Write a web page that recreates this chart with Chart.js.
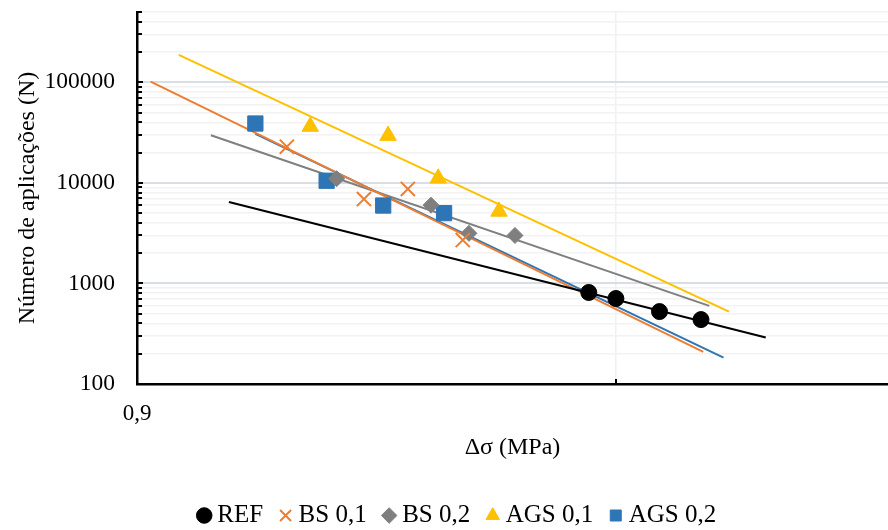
<!DOCTYPE html>
<html>
<head>
<meta charset="utf-8">
<script src="https://cdn.jsdelivr.net/npm/chart.js"></script>
<style>
  body { margin: 0; background: #fff; }
</style>
</head>
<body>
<canvas id="chart" width="888" height="530"></canvas>
<script>
// values (Δσ in MPa, N cycles)
const seriesNames = ['REF', 'BS 0,1', 'BS 0,2', 'AGS 0,1', 'AGS 0,2'];

const refX = [7.90, 9.00, 11.1, 13.55];
const refY = [813, 708, 525, 437];
const bs01X = [1.85, 2.68, 3.31, 4.31];
const bs01Y = [22900, 6900, 8700, 2700];
const bs02X = [2.35, 3.70, 4.44, 5.54];
const bs02Y = [11000, 6000, 3150, 3000];
const ags01X = [2.07, 3.01, 3.83, 5.13];
const ags01Y = [36300, 29500, 11100, 5200];
const ags02X = [1.59, 2.24, 2.94, 3.94];
const ags02Y = [38900, 10500, 5950, 5000];

// power trendlines, start and end as seen on the chart
const refTrendX = [1.40, 18.5];
const refTrendY = [6450, 290];
const bs01TrendX = [0.961, 13.7];
const bs01TrendY = [101600, 209];
const bs02TrendX = [1.284, 14.1];
const bs02TrendY = [29700, 598];
const ags01TrendX = [1.10, 15.5];
const ags01TrendY = [187500, 525];
const ags02TrendX = [1.59, 15.1];
const ags02TrendY = [30700, 183];

// axes
const xTickValues = [0.9, 9];
const xTickLabels = ['0,9', ''];
const yDecades = [100, 1000, 10000, 100000];
const yTickLabels = ['100', '1000', '10000', '100000'];
const yMin = 100, yMax = 500000;

const FONT = "'Liberation Serif', 'Times New Roman', serif";

function isDecade(v){
  const l = Math.log10(v);
  return Math.abs(l - Math.round(l)) < 1e-9;
}

const yTickValues = [];
yDecades.forEach(d=>{
  for(let m=1;m<10;m++){
    if(d*m <= yMax) yTickValues.push(d*m);
  }
});

function pts(xs, ys){
  return xs.map((x,i)=>({x:x, y:ys[i]}));
}

function marks(label, xs, ys, style, color, radius){
  return {
    label: label, data: pts(xs, ys), showLine: false, order: 0,
    pointStyle: style, pointRadius: radius, pointHoverRadius: radius,
    backgroundColor: color, borderColor: color,
    borderWidth: style === 'crossRot' ? 2 : 1
  };
}

function trend(xs, ys, color){
  return {
    data: pts(xs, ys), showLine: true, order: 1, pointRadius: 0,
    borderColor: color, borderWidth: 2, fill: false
  };
}

// tick marks on the inside of both axes
const innerTicks = {
  id: 'innerTicks',
  afterDraw(chart){
    const ctx = chart.ctx, xs = chart.scales.x, ys = chart.scales.y;
    ctx.save();
    ctx.strokeStyle = '#000';
    ctx.lineWidth = 2;
    ys.ticks.forEach(t=>{
      const py = Math.round(ys.getPixelForValue(t.value));
      const len = isDecade(t.value) ? 6 : 5;
      ctx.beginPath();
      ctx.moveTo(xs.left, py);
      ctx.lineTo(xs.left + len, py);
      ctx.stroke();
    });
    xs.ticks.forEach((t,i)=>{
      if(i === 0) return;
      const px = Math.round(xs.getPixelForValue(t.value));
      ctx.beginPath();
      ctx.moveTo(px, ys.bottom);
      ctx.lineTo(px, ys.bottom - 5);
      ctx.stroke();
    });
    ctx.restore();
  }
};

// nudge the legend a bit to the right like in the original
const legendShift = {
  id: 'legendShift',
  afterLayout(chart){
    chart.legend.left += 16;
    chart.legend.right += 16;
  }
};

new Chart(document.getElementById('chart'), {
  type: 'scatter',
  data: {
    datasets: [
      marks(seriesNames[0], refX, refY, 'circle', '#000000', 8),
      marks(seriesNames[1], bs01X, bs01Y, 'crossRot', '#ED7D31', 10),
      marks(seriesNames[2], bs02X, bs02Y, 'rectRot', '#7F7F7F', 8),
      marks(seriesNames[3], ags01X, ags01Y, 'triangle', '#FFC000', 9.5),
      marks(seriesNames[4], ags02X, ags02Y, 'rect', '#2E75B6', 10.8),
      trend(refTrendX, refTrendY, '#000000'),
      trend(bs01TrendX, bs01TrendY, '#ED7D31'),
      trend(bs02TrendX, bs02TrendY, '#7F7F7F'),
      trend(ags01TrendX, ags01TrendY, '#FFC000'),
      trend(ags02TrendX, ags02TrendY, '#2E75B6')
    ]
  },
  options: {
    responsive: false,
    animation: false,
    devicePixelRatio: 1,
    layout: { autoPadding: false, padding: { top: 12, right: 0, bottom: -8, left: 0 } },
    plugins: {
      tooltip: { enabled: false },
      legend: {
        position: 'bottom',
        labels: {
          usePointStyle: true,
          boxWidth: 1,
          boxHeight: 11,
          padding: 22,
          color: '#000',
          font: { family: FONT, size: 25 },
          filter: item => !!item.text
        }
      }
    },
    scales: {
      x: {
        type: 'logarithmic',
        min: 0.9,
        max: 33.3,
        afterBuildTicks: s => { s.ticks = xTickValues.map(v=>({value: v})); },
        afterFit: s => { s.height = 97; s.paddingLeft = 0; s.paddingRight = 0; },
        ticks: {
          autoSkip: false, maxRotation: 0, padding: 16, color: '#000',
          font: { family: FONT, size: 23 },
          callback: (v, i) => xTickLabels[i]
        },
        grid: { drawTicks: false, color: '#eef0f4', lineWidth: 1.5 },
        border: { color: '#000', width: 2.5 },
        title: {
          display: true, text: 'Δσ (MPa)', color: '#000',
          font: { family: FONT, size: 24 },
          padding: { top: 0, bottom: 19 }
        }
      },
      y: {
        type: 'logarithmic',
        min: yMin,
        max: yMax,
        afterBuildTicks: s => { s.ticks = yTickValues.map(v=>({value: v})); },
        afterFit: s => { s.width = 137; s.paddingTop = 0; s.paddingBottom = 0; },
        ticks: {
          autoSkip: false, padding: 22, color: '#000',
          font: { family: FONT, size: 23.5 },
          callback: v => {
            const i = yDecades.indexOf(v);
            return i >= 0 ? yTickLabels[i] : '';
          }
        },
        grid: {
          drawTicks: false,
          color: c => (c.tick && isDecade(c.tick.value)) ? '#d9dee5' : '#f2f2f2',
          lineWidth: c => (c.tick && isDecade(c.tick.value)) ? 2 : 1.5
        },
        border: { color: '#000', width: 2.5 },
        title: {
          display: true, text: 'Número de aplicações (N)', color: '#000',
          font: { family: FONT, size: 24 },
          padding: { top: 13, bottom: 0 }
        }
      }
    }
  },
  plugins: [innerTicks, legendShift]
});
</script>
</body>
</html>
